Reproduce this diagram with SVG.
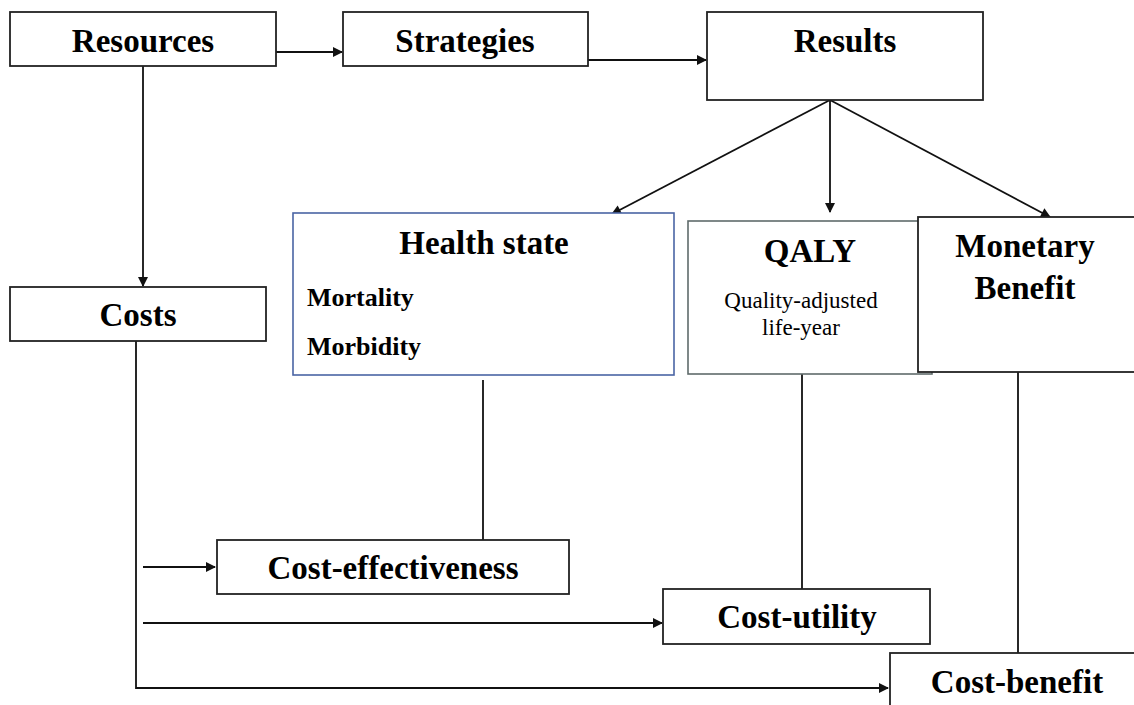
<svg xmlns="http://www.w3.org/2000/svg" width="1134" height="705" viewBox="0 0 1134 705">
<defs>
<style>
.box{fill:#fff;stroke:#222;stroke-width:1.8}
.t{font-family:"Liberation Serif","Times New Roman",serif;font-weight:bold;font-size:33px;fill:#000;text-anchor:middle}
.s{font-family:"Liberation Serif","Times New Roman",serif;font-weight:bold;font-size:26px;fill:#000}
.r{font-family:"Liberation Serif","Times New Roman",serif;font-size:23px;fill:#000;text-anchor:middle}
.c{fill:none;stroke:#111;stroke-width:1.8}
</style>
<marker id="ah" viewBox="0 0 10 10" refX="9" refY="5" markerWidth="11" markerHeight="10" markerUnits="userSpaceOnUse" orient="auto">
<path d="M0,0 L10,5 L0,10 z" fill="#111"/>
</marker>
</defs>
<rect width="1134" height="705" fill="#fff"/>
<g id="connectors">
<line class="c" x1="276" y1="52" x2="342" y2="52" marker-end="url(#ah)"/>
<line class="c" x1="588" y1="60" x2="706" y2="60" marker-end="url(#ah)"/>
<line class="c" x1="143" y1="66" x2="143" y2="286" marker-end="url(#ah)"/>
<line class="c" x1="830" y1="100" x2="612" y2="214" marker-end="url(#ah)"/>
<line class="c" x1="830" y1="100" x2="830" y2="212" marker-end="url(#ah)"/>
<line class="c" x1="830" y1="100" x2="1050" y2="217" marker-end="url(#ah)"/>
<line class="c" x1="483" y1="380" x2="483" y2="540"/>
<line class="c" x1="802" y1="374" x2="802" y2="589"/>
<line class="c" x1="1018" y1="372" x2="1018" y2="653"/>
<polyline class="c" points="136,341 136,688 888,688" marker-end="url(#ah)"/>
<line class="c" x1="143" y1="567" x2="215" y2="567" marker-end="url(#ah)"/>
<line class="c" x1="143" y1="623" x2="662" y2="623" marker-end="url(#ah)"/>
</g>
<g id="resources"><rect class="box" x="10" y="12" width="266" height="54"/><text class="t" x="143" y="52">Resources</text></g>
<g id="strategies"><rect class="box" x="343" y="12" width="245" height="54"/><text class="t" x="465" y="52">Strategies</text></g>
<g id="results"><rect class="box" x="707" y="12" width="276" height="88"/><text class="t" x="845" y="52">Results</text></g>
<g id="health-state"><rect x="293" y="213" width="381" height="162" fill="#fff" stroke="#4a64a4" stroke-width="1.6"/><text class="t" x="484" y="254">Health state</text><text class="s" x="307" y="306">Mortality</text><text class="s" x="307" y="355">Morbidity</text></g>
<g id="qaly"><rect x="688" y="221" width="244" height="153" fill="#fff" stroke="#5f6b6b" stroke-width="1.6"/><text class="t" x="810" y="262">QALY</text><text class="r" x="801" y="308">Quality-adjusted</text><text class="r" x="801" y="335">life-year</text></g>
<g id="monetary-benefit"><rect class="box" x="918" y="217" width="230" height="155"/><text class="t" x="1025" y="257">Monetary</text><text class="t" x="1025" y="299">Benefit</text></g>
<g id="costs"><rect class="box" x="10" y="287" width="256" height="54"/><text class="t" x="138" y="326">Costs</text></g>
<g id="cost-effectiveness"><rect class="box" x="217" y="540" width="352" height="54"/><text class="t" x="393" y="579">Cost-effectiveness</text></g>
<g id="cost-utility"><rect class="box" x="663" y="589" width="267" height="55"/><text class="t" x="797" y="628">Cost-utility</text></g>
<g id="cost-benefit"><rect class="box" x="890" y="653" width="260" height="70"/><text class="t" x="1017" y="693">Cost-benefit</text></g>
</svg>
